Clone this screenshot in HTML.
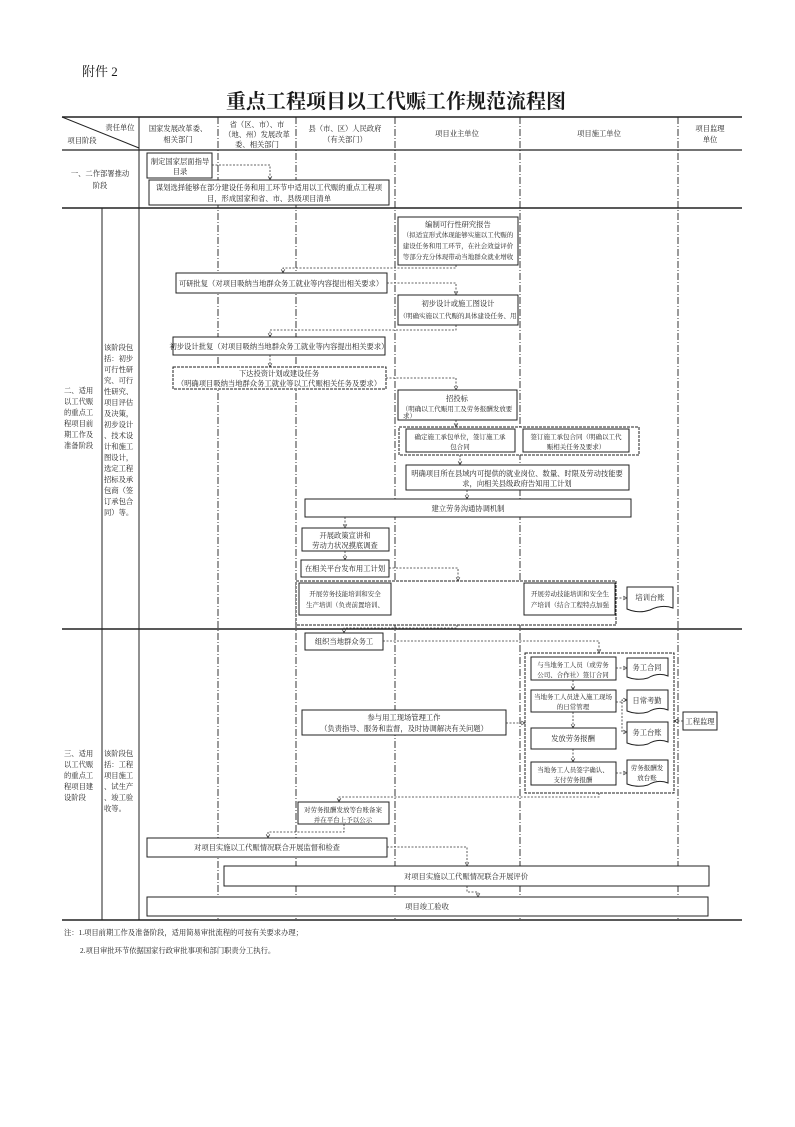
<!DOCTYPE html>
<html><head><meta charset="utf-8"><style>
html,body{margin:0;padding:0;background:#fff}
svg text{font-family:"Liberation Serif","Noto Serif CJK SC","Noto Sans CJK SC",serif;fill:#1a1a1a}
.t{font-size:7.3px;text-anchor:middle}
.n{font-size:6.5px;text-anchor:middle}
.s{font-size:7.3px}
</style></head><body>
<svg width="795" height="1122" viewBox="0 0 795 1122" xmlns="http://www.w3.org/2000/svg">
<defs><marker id="a" viewBox="0 0 10 10" refX="9" refY="5" markerWidth="6" markerHeight="6" orient="auto"><path d="M1,1 L9,5 L1,9" fill="none" stroke="#333" stroke-width="1.3"/></marker></defs>
<text x="82" y="76" style="font-size:13px">附件 2</text>
<text x="396" y="108" style="font-size:20px;font-weight:bold;text-anchor:middle">重点工程项目以工代赈工作规范流程图</text>

<g stroke="#222" fill="none">
<line x1="62" y1="117" x2="742" y2="117" stroke-width="1.5"/>
<line x1="62" y1="150" x2="742" y2="150" stroke-width="1.2"/>
<line x1="62" y1="208" x2="742" y2="208" stroke-width="1.5"/>
<line x1="62" y1="629" x2="742" y2="629" stroke-width="1.5"/>
<line x1="62" y1="920" x2="742" y2="920" stroke-width="1.5"/>
<line x1="62" y1="117" x2="139" y2="148" stroke-width="1"/>
<line x1="102" y1="208" x2="102" y2="920"/>
<line x1="139" y1="117" x2="139" y2="920"/>
<g stroke-dasharray="7,2,1,2" stroke-width="0.9">
<line x1="218" y1="117" x2="218" y2="920"/>
<line x1="296" y1="117" x2="296" y2="920"/>
<line x1="395" y1="117" x2="395" y2="920"/>
<line x1="520" y1="117" x2="520" y2="920"/>
<line x1="678" y1="117" x2="678" y2="920"/>
</g>
</g>

<!-- header -->
<text x="120" y="130" class="t">责任单位</text>
<text x="82" y="143" class="t">项目阶段</text>
<text x="178" y="131" class="t">国家发展改革委、</text>
<text x="178" y="142" class="t">相关部门</text>
<text x="257" y="127" class="t">省（区、市）、市</text>
<text x="257" y="137" class="t">（地、州）发展改革</text>
<text x="257" y="147" class="t">委、相关部门</text>
<text x="345" y="131" class="t">县（市、区）人民政府</text>
<text x="345" y="142" class="t">（有关部门）</text>
<text x="457" y="136" class="t">项目业主单位</text>
<text x="599" y="136" class="t">项目施工单位</text>
<text x="710" y="131" class="t">项目监理</text>
<text x="710" y="142" class="t">单位</text>

<!-- stage labels -->
<text x="100" y="176" class="t">一、二作部署推动</text>
<text x="100" y="188" class="t">阶段</text>
<g class="s">
<text x="64" y="393">二、适用</text><text x="64" y="404">以工代赈</text><text x="64" y="415">的重点工</text><text x="64" y="426">程项目前</text><text x="64" y="437">期工作及</text><text x="64" y="448">准备阶段</text>
<text x="104" y="350">该阶段包</text><text x="104" y="361">括：初步</text><text x="104" y="372">可行性研</text><text x="104" y="383">究、可行</text><text x="104" y="394">性研究、</text><text x="104" y="405">项目评估</text><text x="104" y="416">及决策，</text><text x="104" y="427">初步设计</text><text x="104" y="438">、技术设</text><text x="104" y="449">计和施工</text><text x="104" y="460">图设计，</text><text x="104" y="471">选定工程</text><text x="104" y="482">招标及承</text><text x="104" y="493">包商（签</text><text x="104" y="504">订承包合</text><text x="104" y="515">同）等。</text>
<text x="64" y="756">三、适用</text><text x="64" y="767">以工代赈</text><text x="64" y="778">的重点工</text><text x="64" y="789">程项目建</text><text x="64" y="800">设阶段</text>
<text x="104" y="756">该阶段包</text><text x="104" y="767">括：工程</text><text x="104" y="778">项目施工</text><text x="104" y="789">、试生产</text><text x="104" y="800">、竣工验</text><text x="104" y="811">收等。</text>
</g>

<!-- boxes -->
<g fill="#fff" stroke="#222" stroke-width="1">
<rect x="147" y="153" width="65" height="25"/>
<rect x="149" y="180" width="240" height="25"/>
<rect x="398" y="217" width="120" height="48"/>
<rect x="176" y="273" width="211" height="20"/>
<rect x="398" y="295" width="120" height="30"/>
<rect x="173" y="337" width="212" height="18"/>
<rect x="173" y="367" width="213" height="22" stroke-dasharray="3,1"/>
<rect x="398" y="390" width="119" height="30"/>
<rect x="399" y="427" width="240" height="28" stroke-dasharray="3,1"/>
<rect x="406" y="429" width="109" height="23"/>
<rect x="523" y="429" width="106" height="23"/>
<rect x="406" y="465" width="223" height="25"/>
<rect x="305" y="499" width="326" height="18"/>
<rect x="302" y="528" width="87" height="23"/>
<rect x="301" y="560" width="88" height="17"/>
<rect x="296" y="581" width="320" height="44" stroke-dasharray="3,1"/>
<rect x="299" y="583" width="92" height="32"/>
<rect x="524" y="583" width="91" height="32"/>
<rect x="305" y="633" width="78" height="17"/>
<rect x="525" y="653" width="149" height="140" stroke-dasharray="3,1"/>
<rect x="531" y="657" width="85" height="23"/>
<rect x="531" y="690" width="85" height="22"/>
<rect x="531" y="728" width="85" height="21"/>
<rect x="531" y="762" width="85" height="23"/>
<rect x="302" y="710" width="204" height="25"/>
<rect x="683" y="712" width="34" height="18"/>
<rect x="298" y="802" width="91" height="22"/>
<rect x="147" y="838" width="240" height="19"/>
<rect x="224" y="866" width="485" height="20"/>
<rect x="147" y="897" width="561" height="19"/>
</g>
<!-- documents -->
<g fill="#fff" stroke="#222" stroke-width="1">
<path d="M627,587 H673 V608 Q662,604 650,610 Q638,614 627,609 Z"/>
<path d="M627,658 H668 V676 Q658,672 648,678 Q637,681 627,677 Z"/>
<path d="M627,690 H668 V710 Q658,706 648,712 Q637,715 627,711 Z"/>
<path d="M627,722 H668 V742 Q658,738 648,744 Q637,747 627,743 Z"/>
<path d="M627,760 H668 V783 Q658,779 648,785 Q637,788 627,784 Z"/>
</g>

<!-- box texts -->
<text x="180" y="164" class="t">制定国家层面指导</text><text x="180" y="174" class="t">目录</text>
<text x="269" y="190" class="t">谋划选择能够在部分建设任务和用工环节中适用以工代赈的重点工程项</text>
<text x="269" y="201" class="t">目，形成国家和省、市、县级项目清单</text>
<text x="458" y="227" class="t">编制可行性研究报告</text>
<text x="458" y="237" class="n">（拟适宜形式体现能够实施以工代赈的</text>
<text x="458" y="248" class="n">建设任务和用工环节，在社会效益评价</text>
<text x="458" y="259" class="n">等部分充分体现带动当地群众就业增收</text>
<text x="281" y="286" class="t">可研批复（对项目吸纳当地群众务工就业等内容提出相关要求）</text>
<text x="458" y="306" class="t">初步设计或施工图设计</text>
<text x="458" y="318" class="n">（明确实施以工代赈的具体建设任务、用</text>
<text x="279" y="349" class="t">初步设计批复（对项目吸纳当地群众务工就业等内容提出相关要求）</text>
<text x="279" y="376" class="t">下达投资计划或建设任务</text>
<text x="279" y="386" class="t">（明确项目吸纳当地群众务工就业等以工代赈相关任务及要求）</text>
<text x="457" y="401" class="t">招投标</text>
<text x="457" y="411" class="n">（明确以工代赈用工及劳务报酬发放要</text>
<text x="403" y="418" class="s" style="font-size:6.5px">求）</text>
<text x="460" y="439" class="n">确定施工承包单位，签订施工承</text><text x="460" y="449" class="n">包合同</text>
<text x="576" y="439" class="n">签订施工承包合同（明确以工代</text><text x="576" y="449" class="n">赈相关任务及要求）</text>
<text x="517" y="476" class="t">明确项目所在县域内可提供的就业岗位、数量、时限及劳动技能要</text>
<text x="517" y="486" class="t">求，向相关县级政府告知用工计划</text>
<text x="468" y="511" class="t">建立劳务沟通协调机制</text>
<text x="345" y="538" class="t">开展政策宣讲和</text><text x="345" y="548" class="t">劳动力状况摸底调查</text>
<text x="345" y="571" class="t">在相关平台发布用工计划</text>
<text x="345" y="596" class="n">开展劳务技能培训和安全</text><text x="345" y="607" class="n">生产培训（负责前置培训、</text>
<text x="570" y="596" class="n">开展劳动技能培训和安全生</text><text x="570" y="607" class="n">产培训（结合工程特点加强</text>
<text x="650" y="600" class="t">培训台账</text>
<text x="573" y="667" class="n">与当地务工人员（或劳务</text><text x="573" y="677" class="n">公司、合作社）签订合同</text>
<text x="647" y="670" class="t">务工合同</text>
<text x="573" y="699" class="n">当地务工人员进入施工现场</text><text x="573" y="709" class="n">的日常管理</text>
<text x="647" y="703" class="t">日常考勤</text>
<text x="647" y="735" class="t">务工台账</text>
<text x="573" y="741" class="t">发放劳务报酬</text>
<text x="573" y="772" class="n">当地务工人员签字确认、</text><text x="573" y="782" class="n">支付劳务报酬</text>
<text x="647" y="770" class="n">劳务报酬发</text><text x="647" y="780" class="n">放台账</text>
<text x="344" y="644" class="t">组织当地群众务工</text>
<text x="404" y="720" class="t">参与用工现场管理工作</text>
<text x="404" y="731" class="t">（负责指导、服务和监督，及时协调解决有关问题）</text>
<text x="700" y="724" class="t">工程监理</text>
<text x="343" y="812" class="n">对劳务报酬发放等台账备案</text><text x="343" y="822" class="n">并在平台上予以公示</text>
<text x="267" y="850" class="t">对项目实施以工代赈情况联合开展监督和检查</text>
<text x="466" y="879" class="t">对项目实施以工代赈情况联合开展评价</text>
<text x="427" y="909" class="t">项目竣工验收</text>

<text x="64" y="935" class="s">注：1.项目前期工作及准备阶段，适用简易审批流程的可按有关要求办理；</text>
<text x="80" y="953" class="s">2.项目审批环节依据国家行政审批事项和部门职责分工执行。</text>

<!-- connectors -->
<g fill="none" stroke="#333" stroke-width="0.8" stroke-dasharray="2,1.5" marker-end="url(#a)">
<path d="M212,165 H270 V180"/>
<path d="M456,265 V268 H283 V273"/>
<path d="M387,283 H456 V295"/>
<path d="M456,325 V330 H270 V337"/>
<path d="M270,355 V367"/>
<path d="M386,378 H456 V390"/>
<path d="M456,420 V427"/>
<path d="M460,455 V465"/>
<path d="M467,490 V499"/>
<path d="M345,517 V528"/>
<path d="M345,551 V560"/>
<path d="M389,568 H458 V581"/>
<path d="M616,598 H627"/>
<path d="M457,625 V628 H344 V633"/>
<path d="M383,641 H599 V653"/>
<path d="M573,680 V690"/>
<path d="M573,712 V728"/>
<path d="M573,749 V762"/>
<path d="M616,668 H627"/>
<path d="M616,702 H622 V700 H627"/>
<path d="M622,702 V732 H627"/>
<path d="M616,773 H627"/>
<path d="M506,723 H525"/>
<path d="M683,721 H674"/>
<path d="M599,793 V797 H339 V802"/>
<path d="M344,824 V832 H268 V838"/>
<path d="M387,847 H467 V866"/>
<path d="M467,886 V892 H478 V897"/>
</g>
</svg>
</body></html>
